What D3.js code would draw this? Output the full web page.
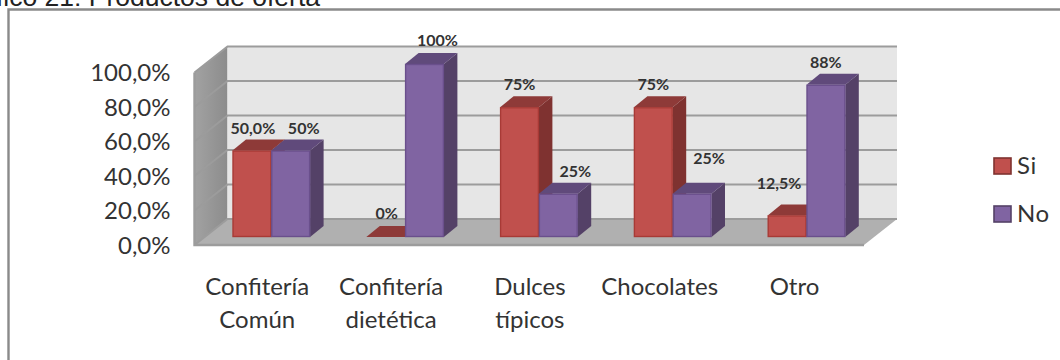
<!DOCTYPE html>
<html>
<head>
<meta charset="utf-8">
<script src="https://cdn.jsdelivr.net/npm/d3@7/dist/d3.min.js"></script>
<style>
  html, body { margin: 0; padding: 0; background: #fff; overflow: hidden; }
  svg { display: block; }
  text { font-family: Lato, "Noto Sans", sans-serif; fill: #333; }
</style>
</head>
<body>
<svg id="chart" width="1060" height="360"></svg>
<script>
// Chart content
const categories = [["Confitería", "Común"], ["Confitería", "dietética"], ["Dulces", "típicos"], ["Chocolates"], ["Otro"]];
const seriesNames = ["Si", "No"];
const siValues = [50, 0, 75, 75, 12.5];
const noValues = [50, 100, 25, 25, 88];
const siLabels = ["50,0%", "0%", "75%", "75%", "12,5%"];
const noLabels = ["50%", "100%", "25%", "25%", "88%"];
const tickValues = [0, 20, 40, 60, 80, 100];
const tickLabels = ["0,0%", "20,0%", "40,0%", "60,0%", "80,0%", "100,0%"];

// Label placement: [dx, dy] relative to the top centre of each bar's front face
const siNudges = [[1, -16.5], [1, -18], [0, -17], [0, -17], [-8, -26]];
const noNudges = [[13, -16.5], [13, -18], [17, -17], [17, -30], [0, -17]];
const catNudges = [-14, -14, -9, -13, -12];

const palette = {
  Si: { front: "#C0504D", top: "#8E3A38", side: "#7F3230", edge: "#A83A36" },
  No: { front: "#8064A2", top: "#604A7B", side: "#544167", edge: "#6A4F8C" }
};

const svg = d3.select("#chart");

// Page heading, cut by the top of the page, and the surrounding frame
svg.append("text").attr("x", 320).attr("y", 6).attr("text-anchor", "end")
  .style("font-family", "'Liberation Sans', Arial, sans-serif")
  .style("font-size", "26.5px").style("fill", "#222")
  .text("Gráfico 21: Productos de oferta");
svg.append("path").attr("d", "M1060,9.5H8.5V360")
  .attr("fill", "none").attr("stroke", "#8a8a8a").attr("stroke-width", 2.4);

// Scales: wall scale for the back plane, bar scale for the plane bars stand on
const wallY = d3.scaleLinear().domain([0, 100]).range([219, 46.5]);
const barY = d3.scaleLinear().domain([0, 100]).range([237, 64]);
const group = d3.scaleBand().domain(d3.range(categories.length)).range([232.5, 901.5]).paddingInner(0).paddingOuter(0);
const barW = 38.8;

const room = { x0: 194.5, x1: 864, dx: 33, dy: -26 };
const wallTop = wallY(100), wallBot = wallY(0);
const frontBot = wallBot - room.dy;

// Side wall, back wall and floor of the 3D box
const defs = svg.append("defs");
const sideGrad = defs.append("linearGradient").attr("id", "sideWall");
sideGrad.append("stop").attr("offset", "0%").attr("stop-color", "#A2A2A2");
sideGrad.append("stop").attr("offset", "100%").attr("stop-color", "#8C8C8C");

const line = d3.line();
svg.append("path")
  .attr("d", line([[room.x0 + room.dx, wallTop], [room.x0 + room.dx, wallBot], [room.x0, frontBot], [room.x0, wallTop - room.dy]]) + "Z")
  .attr("fill", "url(#sideWall)");
svg.append("rect")
  .attr("x", room.x0 + room.dx).attr("y", wallTop)
  .attr("width", room.x1 - room.x0).attr("height", wallBot - wallTop)
  .attr("fill", "#E6E6E6");
svg.append("path")
  .attr("d", line([[room.x0 + room.dx, wallBot], [room.x1 + room.dx, wallBot], [room.x1, frontBot], [room.x0, frontBot]]) + "Z")
  .attr("fill", "#B0B0B0");

// Gridlines run along the back wall and down the side wall
const grid = svg.append("g").attr("fill", "none").attr("stroke", "#9C9C9C").attr("stroke-width", 2);
tickValues.forEach(v => {
  const y = wallY(v);
  grid.append("path").attr("d", line([[room.x0, y - room.dy], [room.x0 + room.dx, y], [room.x1 + room.dx, y]]));
});
svg.append("path")
  .attr("d", line([[room.x0, wallTop - room.dy], [room.x0, frontBot], [room.x1, frontBot]]))
  .attr("fill", "none").attr("stroke", "#9C9C9C").attr("stroke-width", 2.4);

// Value axis labels
svg.append("g").selectAll("text").data(tickValues).join("text")
  .attr("x", 170.5)
  .attr("y", d => wallY(d) - room.dy + 8.5)
  .attr("text-anchor", "end")
  .style("font-size", "24px")
  .text((d, i) => tickLabels[i]);

// Category labels
const catG = svg.append("g").selectAll("text").data(categories).join("text")
  .attr("text-anchor", "middle")
  .style("font-size", "24px");
catG.selectAll("tspan").data((d, i) => d.map(t => ({ t, i }))).join("tspan")
  .attr("x", d => group(d.i) + barW + catNudges[d.i])
  .attr("y", (d, j) => 295 + j * 33)
  .text(d => d.t);

// One 3D bar: side and top faces behind the front face
function drawBar(g, x, v, colors) {
  const depth = { dx: 13.5, dy: -11 };
  const top = barY(v), bot = barY(0);
  g.append("path")
    .attr("d", line([[x + barW, top], [x + barW + depth.dx, top + depth.dy], [x + barW + depth.dx, bot + depth.dy], [x + barW, bot]]) + "Z")
    .attr("fill", colors.side);
  g.append("path")
    .attr("d", line([[x, top], [x + depth.dx, top + depth.dy], [x + barW + depth.dx, top + depth.dy], [x + barW, top]]) + "Z")
    .attr("fill", colors.top);
  if (v > 0) {
    g.append("rect")
      .attr("x", x + 0.5).attr("y", top + 0.5)
      .attr("width", barW - 1).attr("height", bot - top - 1)
      .attr("fill", colors.front).attr("stroke", colors.edge).attr("stroke-width", 1.4);
  }
}

const bars = svg.append("g");
categories.forEach((_, i) => {
  const x = group(i);
  drawBar(bars, x, siValues[i], palette.Si);
  drawBar(bars, x + barW, noValues[i], palette.No);
});

// Value labels
const labelG = svg.append("g").style("font-size", "16px").style("font-weight", "700");
categories.forEach((_, i) => {
  const x = group(i);
  labelG.append("text").attr("text-anchor", "middle")
    .attr("x", x + barW / 2 + siNudges[i][0])
    .attr("y", barY(siValues[i]) + siNudges[i][1])
    .text(siLabels[i]);
  labelG.append("text").attr("text-anchor", "middle")
    .attr("x", x + barW * 1.5 + noNudges[i][0])
    .attr("y", barY(noValues[i]) + noNudges[i][1])
    .text(noLabels[i]);
});

// Legend
const legend = svg.append("g").selectAll("g").data(seriesNames).join("g")
  .attr("transform", (d, i) => `translate(994,${158 + i * 48})`);
legend.append("rect").attr("width", 17).attr("height", 16)
  .attr("fill", d => palette[d].front)
  .attr("stroke", d => palette[d].side).attr("stroke-width", 1.6);
legend.append("text").attr("x", 23).attr("y", 16)
  .style("font-size", "24px").style("letter-spacing", "0.5px")
  .text(d => d);
</script>
</body>
</html>
